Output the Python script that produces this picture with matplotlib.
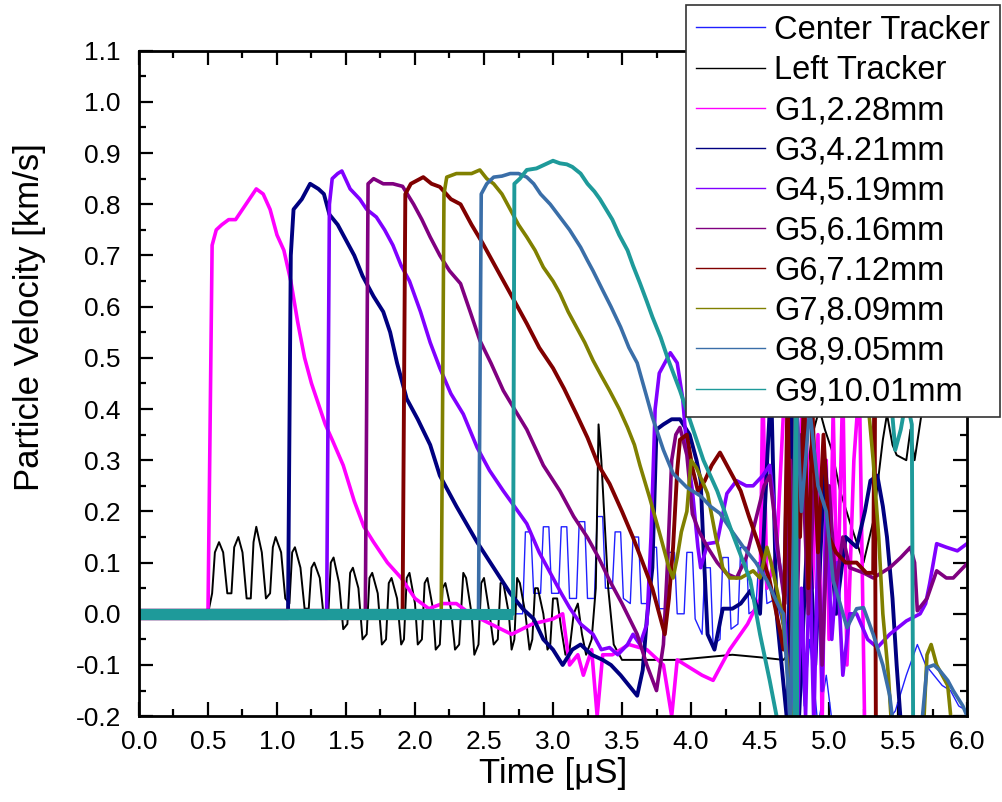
import matplotlib
matplotlib.use("Agg")
import matplotlib.pyplot as plt
import numpy as np

plt.rcParams["font.family"] = ["Liberation Sans", "DejaVu Sans"]

nan = float("nan")

# (time [uS], velocity [km/s])
center = [(0.00, 0.00), (2.78, 0.00),
          (2.80, 0.16), (2.84, 0.16), (2.86, 0.04), (2.91, 0.04),
          (2.93, 0.17), (2.97, 0.17), (2.99, 0.04), (3.04, 0.04),
          (3.06, 0.17), (3.10, 0.17), (3.12, 0.03), (3.17, 0.03),
          (3.19, 0.18), (3.23, 0.18), (3.25, 0.03), (3.30, 0.03),
          (3.32, 0.19), (3.36, 0.19), (3.38, 0.05), (3.43, 0.05),
          (3.45, 0.16), (3.49, 0.16), (3.51, 0.03), (3.56, 0.02),
          (3.58, 0.15), (3.62, 0.15), (3.64, 0.02), (3.69, 0.02),
          (3.71, 0.13), (3.75, 0.13), (3.77, 0.01), (3.82, 0.01),
          (3.84, 0.12), (3.88, 0.12), (3.90, 0.00), (3.95, 0.00),
          (3.97, 0.12), (4.01, 0.12), (4.03, -0.01), (4.08, -0.04),
          (4.10, 0.09), (4.14, 0.09), (4.16, -0.06), (4.21, -0.05),
          (4.23, 0.11), (4.27, 0.11), (4.29, -0.03), (4.34, -0.02),
          (4.36, 0.13), (4.40, 0.13), (4.42, 0.00), (4.47, 0.01),
          (4.49, 0.10), (4.53, 0.10), (4.55, 0.02), (4.62, 0.03),
          (4.66, -0.02), (4.70, 0.45), (4.71, -0.25), (4.73, 0.45),
          (4.74, -0.25), (4.78, 0.00), (4.82, -0.18), (4.86, -0.05),
          (4.92, -0.22), (4.98, -0.12), (5.04, -0.25), (5.30, -0.25),
          (5.48, -0.19), (5.56, -0.12), (5.64, -0.06), (5.70, -0.10),
          (5.76, -0.12), (5.82, -0.14), (5.88, -0.15), (5.94, -0.18),
          (6.00, -0.19)]

left = [(0.00, 0.00), (0.50, 0.00), (0.53, 0.04), (0.55, 0.12), (0.58, 0.14),
        (0.61, 0.12), (0.64, 0.04), (0.67, 0.04), (0.69, 0.13), (0.72, 0.15),
        (0.75, 0.12), (0.78, 0.03), (0.81, 0.03), (0.83, 0.14), (0.85, 0.17),
        (0.89, 0.12), (0.92, 0.03), (0.95, 0.04), (0.97, 0.13), (0.99, 0.15),
        (1.03, 0.12), (1.06, 0.03), (1.09, 0.02), (1.11, 0.12), (1.13, 0.13),
        (1.17, 0.09), (1.20, 0.01), (1.23, 0.01), (1.25, 0.09), (1.27, 0.10),
        (1.31, 0.07), (1.34, -0.01), (1.37, -0.01), (1.39, 0.10), (1.41, 0.11),
        (1.45, 0.06), (1.48, -0.03), (1.51, -0.02), (1.53, 0.08), (1.55, 0.09),
        (1.59, 0.05), (1.62, -0.05), (1.65, -0.04), (1.67, 0.07), (1.69, 0.08),
        (1.73, 0.04), (1.76, -0.06), (1.79, -0.05), (1.81, 0.06), (1.83, 0.07),
        (1.87, 0.03), (1.90, -0.06), (1.92, -0.05), (1.94, 0.07), (1.96, 0.08),
        (2.00, 0.02), (2.02, -0.06), (2.05, -0.05), (2.07, 0.06), (2.09, 0.07),
        (2.13, 0.01), (2.15, -0.07), (2.18, -0.06), (2.20, 0.05), (2.22, 0.06),
        (2.26, 0.01), (2.29, -0.07), (2.32, -0.06), (2.35, 0.08), (2.37, 0.07),
        (2.41, 0.00), (2.43, -0.08), (2.46, -0.06), (2.48, 0.06), (2.50, 0.07),
        (2.54, 0.00), (2.57, -0.06), (2.60, -0.05), (2.62, 0.06), (2.64, 0.06),
        (2.68, 0.00), (2.70, -0.07), (2.72, -0.05), (2.74, 0.07), (2.76, 0.06),
        (2.80, 0.00), (2.83, -0.07), (2.85, -0.05), (2.87, 0.05), (2.89, 0.05),
        (2.93, 0.00), (2.96, -0.07), (2.98, -0.06), (3.00, 0.03), (3.03, 0.03),
        (3.06, -0.03), (3.09, -0.08), (3.12, -0.07), (3.15, 0.00), (3.18, 0.02),
        (3.21, -0.04), (3.24, -0.08), (3.28, -0.05), (3.31, 0.05), (3.33, 0.37),
        (3.35, 0.30), (3.37, 0.20), (3.40, 0.05), (3.44, -0.06), (3.50, -0.09),
        (3.70, -0.09), (3.90, -0.09), (4.10, -0.085), (4.30, -0.08), (4.50, -0.085),
        (4.67, -0.09), (4.70, -0.08), (4.72, 0.00), (4.80, 0.20), (4.88, 0.35),
        (4.93, 0.40), (4.97, 0.36), (5.02, 0.32), (5.08, 0.24), (5.15, 0.18),
        (5.25, 0.10), (5.32, 0.18), (5.39, 0.34), (5.42, 0.39), (5.46, 0.33),
        (5.49, 0.31), (5.56, 0.30), (5.59, 0.36), (5.62, 0.30), (5.67, 0.39),
        (5.72, 0.45)]

g1 = [(0.00, 0.00), (0.50, 0.00), (0.53, 0.72), (0.56, 0.75), (0.60, 0.76),
      (0.65, 0.77), (0.70, 0.77), (0.75, 0.79), (0.80, 0.81), (0.85, 0.83),
      (0.90, 0.82), (0.95, 0.79), (1.00, 0.74), (1.05, 0.71), (1.10, 0.65),
      (1.15, 0.57), (1.20, 0.50), (1.25, 0.45), (1.30, 0.41), (1.35, 0.37),
      (1.40, 0.34), (1.48, 0.29), (1.56, 0.22), (1.63, 0.17), (1.70, 0.14),
      (1.80, 0.10), (1.90, 0.07), (2.00, 0.03), (2.10, 0.01), (2.20, 0.02),
      (2.30, 0.02), (2.40, 0.00), (2.55, -0.02), (2.70, -0.04), (2.85, -0.02),
      (3.00, -0.01), (3.07, 0.00), (3.12, -0.10), (3.18, -0.08), (3.22, -0.12),
      (3.28, -0.07), (3.32, -0.20), (3.36, -0.08), (3.43, -0.08), (3.55, -0.06),
      (3.68, -0.07), (3.80, -0.10), (3.86, -0.20), (3.90, -0.09), (3.99, -0.105),
      (4.08, -0.12), (4.16, -0.13), (4.28, -0.07), (4.41, -0.02), (4.50, 0.03),
      (4.52, 0.45), (4.55, 0.05), (4.62, 0.12), (4.68, 0.45), (4.75, 0.20),
      (4.82, 0.45), (4.88, 0.05), (4.92, 0.35), (4.95, -0.22), (4.98, 0.30),
      (5.00, -0.05), (5.03, 0.40), (5.06, 0.00), (5.10, 0.45), (5.13, -0.10),
      (5.18, 0.30), (5.22, 0.45), (5.26, -0.25)]

g3 = [(0.00, 0.00), (1.08, 0.00), (1.10, 0.70), (1.12, 0.79), (1.18, 0.81),
      (1.24, 0.84), (1.30, 0.83), (1.34, 0.82), (1.38, 0.78), (1.44, 0.76),
      (1.50, 0.73), (1.56, 0.70), (1.62, 0.66), (1.70, 0.62), (1.77, 0.59),
      (1.82, 0.55), (1.87, 0.49), (1.94, 0.42), (2.02, 0.38), (2.11, 0.33),
      (2.18, 0.27), (2.30, 0.21), (2.45, 0.14), (2.57, 0.09), (2.69, 0.04),
      (2.78, 0.01), (2.86, -0.01), (2.93, -0.05), (3.00, -0.07), (3.07, -0.10),
      (3.14, -0.07), (3.20, -0.06), (3.28, -0.08), (3.36, -0.09), (3.42, -0.10),
      (3.49, -0.12), (3.55, -0.14), (3.61, -0.16), (3.65, -0.11), (3.68, -0.01),
      (3.72, 0.09), (3.75, 0.36), (3.80, 0.37), (3.86, 0.38), (3.92, 0.38),
      (3.99, 0.35), (4.04, 0.30), (4.07, 0.26), (4.09, 0.13), (4.12, -0.04),
      (4.17, -0.07), (4.23, 0.01), (4.30, 0.01), (4.36, 0.02), (4.43, 0.045),
      (4.50, 0.00), (4.55, 0.29), (4.58, 0.45), (4.62, 0.00), (4.70, -0.22),
      (4.73, 0.45), (4.78, -0.22), (4.85, 0.20), (4.90, -0.10), (4.97, 0.30),
      (5.05, 0.00), (5.12, 0.15), (5.20, 0.13), (5.26, 0.20), (5.30, 0.26),
      (5.35, 0.27), (5.39, 0.21), (5.42, 0.15), (5.46, 0.03), (5.49, -0.10),
      (5.53, -0.25)]

g4 = [(0.00, 0.00), (1.36, 0.00), (1.38, 0.80), (1.40, 0.85), (1.44, 0.86),
      (1.47, 0.865), (1.53, 0.83), (1.60, 0.81), (1.65, 0.79), (1.72, 0.775),
      (1.78, 0.75), (1.84, 0.72), (1.90, 0.68), (1.96, 0.65), (2.04, 0.59),
      (2.11, 0.53), (2.18, 0.48), (2.26, 0.43), (2.35, 0.39), (2.45, 0.325),
      (2.54, 0.28), (2.64, 0.24), (2.72, 0.21), (2.81, 0.176), (2.90, 0.12),
      (3.00, 0.07), (3.06, 0.04), (3.12, 0.012), (3.20, -0.02), (3.29, -0.04),
      (3.35, -0.07), (3.41, -0.066), (3.47, -0.08), (3.54, -0.06), (3.58, -0.04),
      (3.63, -0.06), (3.68, -0.02), (3.71, 0.15), (3.74, 0.40), (3.77, 0.47),
      (3.81, 0.49), (3.85, 0.51), (3.90, 0.49), (3.94, 0.42), (3.97, 0.32),
      (4.01, 0.24), (4.05, 0.13), (4.07, 0.09), (4.12, 0.137), (4.19, 0.14),
      (4.26, 0.235), (4.33, 0.26), (4.40, 0.25), (4.45, 0.25), (4.52, 0.27),
      (4.57, 0.29), (4.60, 0.22), (4.62, 0.13), (4.67, 0.05), (4.72, -0.22),
      (4.74, 0.10), (4.77, -0.22), (4.80, 0.05), (4.83, -0.20), (4.86, 0.12),
      (4.89, -0.22), (4.92, 0.15), (4.95, -0.15), (4.98, 0.20), (5.02, -0.05),
      (5.06, 0.10), (5.10, -0.12), (5.15, 0.00), (5.20, 0.00), (5.28, -0.05),
      (5.35, -0.066), (5.44, -0.04), (5.56, -0.014), (5.66, 0.00), (5.70, 0.02),
      (5.73, 0.06), (5.78, 0.137), (5.85, 0.13), (5.93, 0.123), (6.00, 0.137)]

g5 = [(0.00, 0.00), (1.64, 0.00), (1.66, 0.84), (1.70, 0.85), (1.77, 0.84),
      (1.84, 0.84), (1.91, 0.835), (1.99, 0.80), (2.05, 0.77), (2.11, 0.736),
      (2.18, 0.70), (2.25, 0.67), (2.33, 0.645), (2.40, 0.59), (2.47, 0.534),
      (2.55, 0.49), (2.64, 0.436), (2.72, 0.40), (2.81, 0.36), (2.93, 0.29),
      (3.05, 0.24), (3.15, 0.19), (3.25, 0.149), (3.33, 0.11), (3.41, 0.065),
      (3.50, 0.02), (3.61, -0.04), (3.68, -0.10), (3.75, -0.15), (3.80, -0.06),
      (3.83, 0.10), (3.86, 0.30), (3.89, 0.35), (3.92, 0.364), (3.97, 0.31),
      (4.01, 0.195), (4.06, 0.16), (4.12, 0.13), (4.19, 0.10), (4.26, 0.078),
      (4.33, 0.07), (4.40, 0.11), (4.48, 0.196), (4.53, 0.25), (4.57, 0.27),
      (4.60, 0.20), (4.64, 0.10), (4.68, 0.02), (4.72, 0.30), (4.76, -0.10),
      (4.80, 0.35), (4.85, 0.00), (4.90, 0.30), (4.95, -0.10), (5.00, 0.25),
      (5.05, 0.05), (5.10, 0.15), (5.15, 0.09), (5.25, 0.08), (5.32, 0.07),
      (5.44, 0.09), (5.52, 0.11), (5.59, 0.13), (5.62, 0.10), (5.64, 0.006),
      (5.71, 0.03), (5.78, 0.084), (5.85, 0.07), (5.90, 0.07), (6.00, 0.098)]

g6 = [(0.00, 0.00), (1.91, 0.00), (1.93, 0.82), (1.97, 0.84), (2.06, 0.853),
      (2.12, 0.84), (2.18, 0.834), (2.26, 0.81), (2.33, 0.80), (2.41, 0.76),
      (2.49, 0.724), (2.60, 0.67), (2.69, 0.626), (2.81, 0.567), (2.90, 0.52),
      (3.00, 0.48), (3.08, 0.44), (3.17, 0.39), (3.25, 0.344), (3.33, 0.29),
      (3.41, 0.254), (3.50, 0.20), (3.58, 0.149), (3.65, 0.10), (3.72, 0.05),
      (3.77, 0.00), (3.81, -0.04), (3.84, 0.03), (3.87, 0.13), (3.90, 0.28),
      (3.92, 0.34), (3.97, 0.35), (4.01, 0.285), (4.05, 0.24), (4.10, 0.26),
      (4.15, 0.29), (4.21, 0.315), (4.26, 0.29), (4.30, 0.27), (4.36, 0.24),
      (4.42, 0.19), (4.48, 0.143), (4.53, 0.10), (4.57, 0.065), (4.64, -0.027),
      (4.67, -0.07), (4.70, 0.45), (4.73, -0.10), (4.76, 0.45), (4.79, 0.15),
      (4.82, 0.45), (4.85, 0.05), (4.88, 0.40), (4.92, 0.12), (4.96, 0.35),
      (5.00, 0.15), (5.05, 0.12), (5.12, 0.10), (5.20, 0.10), (5.27, 0.08),
      (5.32, 0.08), (5.33, 0.45), (5.34, -0.25)]

g7 = [(0.00, 0.00), (2.19, 0.00), (2.21, 0.82), (2.23, 0.853), (2.30, 0.86),
      (2.35, 0.86), (2.41, 0.86), (2.47, 0.867), (2.52, 0.85), (2.57, 0.84),
      (2.63, 0.82), (2.69, 0.79), (2.75, 0.76), (2.81, 0.736), (2.87, 0.71),
      (2.93, 0.677), (3.00, 0.65), (3.05, 0.626), (3.11, 0.59), (3.17, 0.56),
      (3.23, 0.53), (3.29, 0.495), (3.35, 0.465), (3.41, 0.436), (3.48, 0.40),
      (3.54, 0.364), (3.59, 0.33), (3.63, 0.29), (3.70, 0.227), (3.78, 0.15),
      (3.84, 0.09), (3.87, 0.07), (3.90, 0.11), (3.93, 0.16), (3.97, 0.20),
      (4.00, 0.30), (4.04, 0.285), (4.12, 0.235), (4.18, 0.15), (4.23, 0.09),
      (4.28, 0.07), (4.36, 0.07), (4.45, 0.084), (4.50, 0.07), (4.55, 0.13),
      (4.58, 0.10), (4.62, 0.05), (4.66, 0.00), (4.70, -0.10), (4.74, -0.25),
      (4.76, nan), (5.27, 0.45), (5.32, 0.30), (5.36, 0.15), (5.39, 0.00),
      (5.43, -0.12), (5.46, -0.25), (5.50, nan), (5.68, -0.25), (5.71, -0.08),
      (5.74, -0.06), (5.78, -0.10), (5.82, -0.12), (5.86, -0.14), (5.90, -0.25)]

g8 = [(0.00, 0.00), (2.46, 0.00), (2.48, 0.82), (2.52, 0.84), (2.57, 0.853),
      (2.63, 0.855), (2.69, 0.86), (2.75, 0.86), (2.81, 0.853), (2.86, 0.84),
      (2.91, 0.82), (2.98, 0.80), (3.05, 0.775), (3.12, 0.75), (3.20, 0.716),
      (3.25, 0.69), (3.29, 0.67), (3.36, 0.632), (3.42, 0.60), (3.49, 0.56),
      (3.55, 0.52), (3.61, 0.49), (3.68, 0.423), (3.72, 0.384), (3.80, 0.32),
      (3.87, 0.274), (3.97, 0.247), (4.07, 0.23), (4.14, 0.21), (4.21, 0.196),
      (4.30, 0.16), (4.38, 0.13), (4.47, 0.10), (4.55, 0.065), (4.64, 0.012),
      (4.67, 0.00), (4.72, -0.22), (4.76, 0.45), (4.80, 0.20), (4.86, 0.40),
      (4.92, 0.25), (4.98, 0.20), (5.03, 0.065), (5.08, 0.02), (5.13, -0.027),
      (5.20, 0.01), (5.25, 0.012), (5.32, -0.04), (5.39, -0.10), (5.44, -0.16),
      (5.48, -0.25), (5.55, nan), (5.66, -0.25), (5.71, -0.105), (5.76, -0.10),
      (5.80, -0.11), (5.86, -0.13), (5.90, -0.15), (5.97, -0.18), (6.00, -0.20)]

g9 = [(0.00, 0.00), (2.71, 0.00), (2.72, 0.84), (2.76, 0.85), (2.81, 0.867),
      (2.88, 0.87), (2.96, 0.88), (3.00, 0.885), (3.05, 0.88), (3.10, 0.878),
      (3.14, 0.873), (3.20, 0.86), (3.25, 0.84), (3.30, 0.825), (3.34, 0.81),
      (3.43, 0.77), (3.48, 0.74), (3.54, 0.71), (3.58, 0.68), (3.63, 0.646),
      (3.68, 0.61), (3.72, 0.58), (3.78, 0.54), (3.83, 0.50), (3.92, 0.436),
      (4.01, 0.364), (4.09, 0.30), (4.19, 0.24), (4.30, 0.157), (4.43, 0.065),
      (4.50, -0.04), (4.57, -0.13), (4.62, -0.20), (4.66, -0.25), (4.70, nan),
      (4.75, -0.25), (4.76, 0.45), (4.77, -0.25), (4.80, nan), (5.44, 0.45),
      (5.48, 0.32), (5.52, 0.36), (5.56, 0.42), (5.60, 0.37), (5.61, -0.25)]

labels = ["Center Tracker", "Left Tracker", "G1,2.28mm", "G3,4.21mm", "G4,5.19mm",
          "G5,6.16mm", "G6,7.12mm", "G7,8.09mm", "G8,9.05mm", "G9,10.01mm"]
series = [center, left, g1, g3, g4, g5, g6, g7, g8, g9]
colors = ["#2020FF", "#000000", "#FF00FF", "#000080", "#8000FF",
          "#800080", "#800000", "#808000", "#3A6EA8", "#1E9A9A"]
widths = [1.0, 1.4, 2.6, 2.8, 2.6, 2.6, 2.8, 2.6, 2.6, 2.8]

fig = plt.figure(figsize=(10.02, 8.02), dpi=100)
ax = fig.add_axes([0.1387, 0.107, 0.8264, 0.8298])

for s, lab, c, w in zip(series, labels, colors, widths):
    arr = np.array(s, dtype=float)
    # the noisy pre-shock baseline shows as a wide band
    if lab.startswith("G"):
        ax.plot(arr[:2, 0], arr[:2, 1], color=c, lw=8, solid_capstyle="butt")
    ax.plot(arr[:, 0], arr[:, 1], color=c, lw=w, label=lab)

ax.set_xlim(0, 6)
ax.set_ylim(-0.2, 1.1)
ax.set_xticks(np.arange(0, 6.01, 0.5))
ax.set_xticks(np.arange(0, 6.01, 0.25), minor=True)
ax.set_yticks(np.arange(-0.2, 1.101, 0.1))
ax.set_yticks(np.arange(-0.2, 1.101, 0.05), minor=True)
ax.xaxis.set_major_formatter(matplotlib.ticker.FormatStrFormatter("%.1f"))
ax.yaxis.set_major_formatter(matplotlib.ticker.FormatStrFormatter("%.1f"))
ax.tick_params(which="both", direction="in", top=True, right=True, width=1.6)
ax.tick_params(which="major", length=10, labelsize=19)
ax.tick_params(axis="x", which="major", pad=10)
ax.tick_params(axis="y", which="major", pad=13)
ax.tick_params(which="minor", length=5)
for sp in ax.spines.values():
    sp.set_linewidth(2)

ax.set_xlabel("Time [μS]", fontsize=25, labelpad=2)
ax.set_ylabel("Particle Velocity [km/s]", fontsize=25)
ax.yaxis.set_label_coords(-0.112, 0.6)

leg_lines = [plt.Line2D([], [], color=c, lw=1.0) for c in colors]
leg = fig.legend(leg_lines, labels, loc="upper right",
                 bbox_to_anchor=(1000 / 1002, 1 - 5 / 802), fontsize=23.5,
                 frameon=True, fancybox=False, framealpha=1, edgecolor="#333333",
                 handlelength=2.1, handletextpad=0.3, labelspacing=0.28,
                 borderpad=0.3, borderaxespad=0)
leg.get_frame().set_linewidth(1.2)

fig.savefig("out.png", dpi=100)
